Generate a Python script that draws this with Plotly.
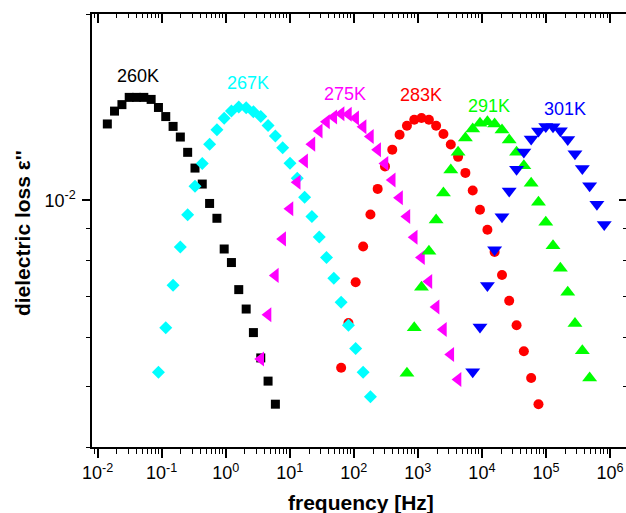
import numpy as np
import plotly.graph_objects as go

# Dielectric loss spectra at six temperatures
freq_260 = [0.0142, 0.0184, 0.0240, 0.0312, 0.0405, 0.0527, 0.0686, 0.0892, 0.116, 0.151,
            0.196, 0.255, 0.332, 0.431, 0.561, 0.730, 0.948, 1.23, 1.60, 2.09,
            2.71, 3.53, 4.59, 5.97]
eps_260 = [0.01329, 0.01394, 0.01428, 0.01467, 0.01467, 0.01467, 0.01456, 0.01413, 0.01366, 0.01317,
           0.01266, 0.01196, 0.01128, 0.01063, 0.00989, 0.00936, 0.00835, 0.00794, 0.00718, 0.00668,
           0.00612, 0.00557, 0.00511, 0.00469]

freq_267 = [0.0892, 0.116, 0.151, 0.196, 0.255, 0.332, 0.431, 0.561, 0.730, 0.948,
            1.23, 1.60, 2.09, 2.71, 3.53, 4.59, 5.97, 7.76, 10.1, 13.1,
            17.1, 22.2, 28.9, 37.5, 48.8, 63.5, 82.6, 107, 140, 182]
eps_267 = [0.00528, 0.00623, 0.00730, 0.00841, 0.00948, 0.01054, 0.01147, 0.01232, 0.01301, 0.01357,
           0.01394, 0.01416, 0.01411, 0.01391, 0.01366, 0.01322, 0.01271, 0.01217, 0.01148, 0.01086,
           0.01012, 0.00942, 0.00873, 0.00809, 0.00749, 0.00685, 0.00629, 0.00577, 0.00528, 0.00482]

freq_275 = [3.53, 4.59, 5.97, 7.76, 10.1, 13.1, 17.1, 22.2, 28.9, 37.5,
            48.8, 63.5, 82.6, 107, 140, 182, 236, 307, 399, 519,
            676, 879, 1140, 1490, 1930, 2510, 3270, 4250]
eps_275 = [0.00555, 0.00654, 0.00757, 0.00867, 0.00970, 0.01070, 0.01158, 0.01233, 0.01295, 0.01340,
           0.01364, 0.01380, 0.01378, 0.01359, 0.01315, 0.01268, 0.01208, 0.01147, 0.01079, 0.01010,
           0.00942, 0.00872, 0.00809, 0.00740, 0.00673, 0.00619, 0.00564, 0.00514]

freq_283 = [63.5, 82.6, 107, 140, 182, 236, 307, 399, 519, 676,
            879, 1140, 1490, 1930, 2510, 3270, 4250, 5530, 7190, 9340,
            12200, 15800, 20600, 26700, 34800, 45200, 58800, 76500]
eps_283 = [0.00537, 0.00634, 0.00738, 0.00843, 0.00949, 0.01044, 0.01135, 0.01208, 0.01277, 0.01320,
           0.01350, 0.01359, 0.01350, 0.01320, 0.01280, 0.01231, 0.01176, 0.01108, 0.01038, 0.00966,
           0.00897, 0.00826, 0.00758, 0.00689, 0.00629, 0.00571, 0.00517, 0.00469]

freq_291 = [676, 879, 1140, 1490, 1930, 2510, 3270, 4250, 5530, 7190,
            9340, 12200, 15800, 20600, 26700, 34800, 45200, 58800, 76500, 99400,
            129000, 168000, 219000, 284000, 370000, 481000]
eps_291 = [0.00526, 0.00623, 0.00724, 0.00828, 0.00930, 0.01028, 0.01120, 0.01196, 0.01262, 0.01304,
           0.01332, 0.01340, 0.01329, 0.01300, 0.01252, 0.01196, 0.01138, 0.01066, 0.00993, 0.00922,
           0.00845, 0.00777, 0.00711, 0.00633, 0.00572, 0.00517]

freq_301 = [7190, 9340, 12200, 15800, 20600, 26700, 34800, 45200, 58800, 76500,
            99400, 129000, 168000, 219000, 284000, 370000, 481000, 625000, 813000]
eps_301 = [0.00529, 0.00625, 0.00729, 0.00833, 0.00941, 0.01036, 0.01123, 0.01198, 0.01257, 0.01295,
           0.01317, 0.01315, 0.01296, 0.01254, 0.01190, 0.01126, 0.01056, 0.00986, 0.00915]

# Temperature labels and where they sit (frequency, loss)
temp_labels = ["260K", "267K", "275K", "283K", "291K", "301K"]
label_freq = [0.0432, 2.23, 72.9, 1120, 12900, 196000]
label_eps = [0.01590, 0.01549, 0.01487, 0.01480, 0.01422, 0.01406]

# Axis ticks
x_tickvals = [1e-2, 1e-1, 1e0, 1e1, 1e2, 1e3, 1e4, 1e5, 1e6]
x_ticktext = ["10<sup>-2</sup>", "10<sup>-1</sup>", "10<sup>0</sup>", "10<sup>1</sup>",
              "10<sup>2</sup>", "10<sup>3</sup>", "10<sup>4</sup>", "10<sup>5</sup>", "10<sup>6</sup>"]
y_tickvals = [1e-2]
y_ticktext = ["10<sup>-2</sup>"]

FONT = "Arial, Liberation Sans, sans-serif"

# (freq, eps, colour, symbol, size) in drawing order
series = {
    "260K": (freq_260, eps_260, "#000000", "square", 9),
    "283K": (freq_283, eps_283, "#FF0000", "circle", 10),
    "267K": (freq_267, eps_267, "#00FFFF", "diamond", 10),
    "275K": (freq_275, eps_275, "#FF00FF", "triangle-left", 13),
    "291K": (freq_291, eps_291, "#00FF00", "triangle-up", 13),
    "301K": (freq_301, eps_301, "#0000FF", "triangle-down", 13),
}
label_colors = ["#000000", "#00FFFF", "#FF00FF", "#FF0000", "#00FF00", "#0000FF"]

fig = go.Figure()
for name, (f, e, col, sym, sz) in series.items():
    fig.add_trace(go.Scatter(
        x=f, y=e, mode="markers", name=name,
        marker=dict(symbol=sym, size=sz, color=col, line=dict(width=0)),
    ))

# empty trace so the top/right frame axes are drawn
fig.add_trace(go.Scatter(x=[], y=[], xaxis="x2", yaxis="y2", showlegend=False, hoverinfo="skip"))

x_range = [-2.087, 6.25]
y_range = [np.log10(0.004), np.log10(0.02)]

fig.update_layout(
    width=626, height=513,
    margin=dict(l=92, r=0, t=14, b=66),
    paper_bgcolor="white", plot_bgcolor="white",
    showlegend=False,
    font=dict(family=FONT, color="black", size=18),
    xaxis=dict(
        type="log", range=x_range,
        tickmode="array", tickvals=x_tickvals, ticktext=x_ticktext,
        ticks="outside", ticklen=9, tickwidth=1.5, tickcolor="black",
        showline=True, linewidth=1.5, linecolor="black",
        showgrid=False, zeroline=False,
        tickfont=dict(family=FONT, size=18, color="black"),
        minor=dict(dtick="D1", ticks="outside", ticklen=5, tickwidth=1.2,
                   tickcolor="black", showgrid=False),
    ),
    yaxis=dict(
        type="log", range=y_range,
        tickmode="array", tickvals=y_tickvals, ticktext=y_ticktext,
        ticks="outside", ticklen=8, tickwidth=1.5, tickcolor="black",
        showline=True, linewidth=1.5, linecolor="black",
        showgrid=False, zeroline=False,
        tickfont=dict(family=FONT, size=18, color="black"),
        ticklabelstandoff=3,
        minor=dict(dtick="D1", ticks="outside", ticklen=4, tickwidth=1.2,
                   tickcolor="black", showgrid=False),
    ),
    xaxis2=dict(
        type="log", range=x_range, overlaying="x", side="top",
        tickmode="array", tickvals=x_tickvals, showticklabels=False,
        ticks="inside", ticklen=9, tickwidth=1.5, tickcolor="black",
        showline=True, linewidth=1.5, linecolor="black",
        showgrid=False, zeroline=False,
        minor=dict(dtick="D1", ticks="inside", ticklen=4.5, tickwidth=1.2,
                   tickcolor="black", showgrid=False),
    ),
    yaxis2=dict(
        type="log", range=y_range, overlaying="y", side="right",
        tickmode="array", tickvals=y_tickvals, showticklabels=False,
        ticks="inside", ticklen=7, tickwidth=1.5, tickcolor="black",
        showline=False, showgrid=False, zeroline=False,
        minor=dict(dtick="D1", ticks="inside", ticklen=3.5, tickwidth=1.2,
                   tickcolor="black", showgrid=False),
    ),
)

# Axis titles
fig.add_annotation(
    text="frequency [Hz]", xref="paper", yref="paper", x=0.503, y=-0.129,
    xanchor="center", yanchor="middle", showarrow=False,
    font=dict(family=FONT, size=21, color="black", weight="bold"),
)
fig.add_annotation(
    text="dielectric loss \u03b5''", xref="paper", yref="paper", x=-0.130, y=0.493,
    xanchor="center", yanchor="middle", showarrow=False, textangle=-90,
    font=dict(family=FONT, size=21, color="black", weight="bold"),
)

for txt, fx, ey, col in zip(temp_labels, label_freq, label_eps, label_colors):
    fig.add_annotation(
        x=np.log10(fx), y=np.log10(ey), xref="x", yref="y",
        text=txt, showarrow=False,
        font=dict(family=FONT, size=18, color=col),
        xanchor="center", yanchor="middle",
    )

fig.write_html("out.html")
